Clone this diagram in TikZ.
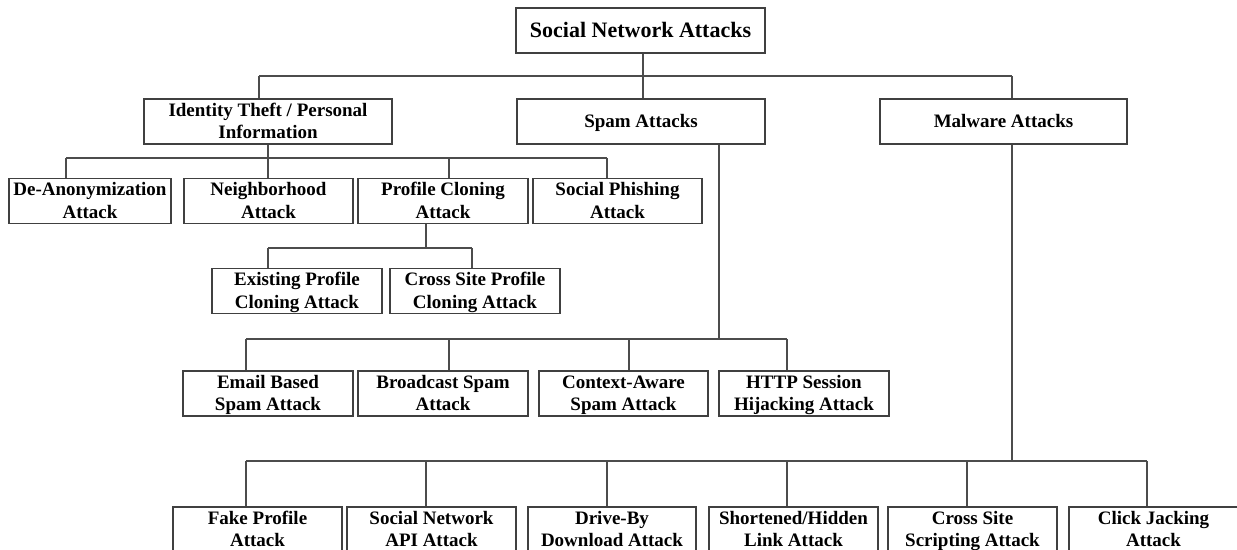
\documentclass[tikz,border=0pt]{standalone}
\usepackage{fontspec}
\setmainfont{Liberation Serif}

\tikzset{
  attack/.style={draw=black!75, line width=1.5pt, fill=white,
    minimum width=170pt, minimum height=45pt, inner sep=0pt,
    text height=38.5pt, text depth=4pt,
    align=center, font=\bfseries\fontsize{19}{22.5}\selectfont},
  oneline/.style={text height=16pt},
  link/.style={draw=black!70, line width=1.5pt}
}

\begin{document}
\begin{tikzpicture}[x=1pt,y=-1pt]

  % page frame (pixels of the original)
  \clip (0,0) rectangle (1237,549);
  \fill[white] (0,0) rectangle (1237,549);

  % Root
  \node[attack, oneline, minimum width=249pt, text height=17pt,
    font=\bfseries\fontsize{22}{26}\selectfont]
    (root) at (640.5,30.5) {Social Network Attacks};

  % First level
  \node[attack, minimum width=248pt] (identity) at (268,121.5) {Identity Theft / Personal\\Information};
  \node[attack, oneline, minimum width=248pt] (spam) at (641,121.5) {Spam Attacks};
  \node[attack, oneline, minimum width=247pt] (malware) at (1003.5,121.5) {Malware Attacks};

  % Identity theft children
  \node[attack, minimum width=162pt] (deanon) at (90,201) {De-Anonymization\\Attack};
  \node[attack, minimum width=169pt] (neighbor) at (268.5,201) {Neighborhood\\Attack};
  \node[attack] (pclone) at (443,201) {Profile Cloning\\Attack};
  \node[attack, minimum width=169pt] (phishing) at (617.5,201) {Social Phishing\\Attack};

  % Profile cloning children
  \node[attack] (existing) at (297,291) {Existing Profile\\Cloning Attack};
  \node[attack] (crosssite) at (475,291) {Cross Site Profile\\Cloning Attack};

  % Spam children
  \node[attack] (email) at (268,393.5) {Email Based\\Spam Attack};
  \node[attack] (broadcast) at (443,393.5) {Broadcast Spam\\Attack};
  \node[attack, minimum width=169pt] (context) at (623.5,393.5) {Context-Aware\\Spam Attack};
  \node[attack] (http) at (804,393.5) {HTTP Session\\Hijacking Attack};

  % Malware children
  \node[attack, minimum width=169pt] (fake) at (257.5,529.5) {Fake Profile\\Attack};
  \node[attack, minimum width=169pt] (api) at (431.5,529.5) {Social Network\\API Attack};
  \node[attack, minimum width=168pt] (drive) at (612,529.5) {Drive-By\\Download Attack};
  \node[attack, minimum width=169pt] (shortened) at (793.5,529.5) {Shortened/Hidden\\Link Attack};
  \node[attack, minimum width=169pt] (xss) at (972.5,529.5) {Cross Site\\Scripting Attack};
  \node[attack, minimum width=169pt] (click) at (1153.5,529.5) {Click Jacking\\Attack};

  % Root to first level
  \coordinate (t1) at (259,76);
  \coordinate (t2) at (643,76);
  \coordinate (t3) at (1012,76);
  \draw[link] (root.south -| t2) -- (spam.north -| t2);
  \draw[link] (t1) -- (t3);
  \draw[link] (identity.north -| t1) -- (t1);
  \draw[link] (malware.north -| t3) -- (t3);

  % Identity theft branch
  \coordinate (i1) at (66,158);
  \coordinate (i2) at (268,158);
  \coordinate (i3) at (449,158);
  \coordinate (i4) at (607,158);
  \draw[link] (identity.south -| i2) -- (neighbor.north -| i2);
  \draw[link] (i1) -- (i4);
  \draw[link] (deanon.north -| i1) -- (i1);
  \draw[link] (pclone.north -| i3) -- (i3);
  \draw[link] (phishing.north -| i4) -- (i4);

  % Profile cloning branch
  \coordinate (c0) at (426,248);
  \coordinate (c1) at (268,248);
  \coordinate (c2) at (472,248);
  \draw[link] (pclone.south -| c0) -- (c0);
  \draw[link] (c1) -- (c2);
  \draw[link] (existing.north -| c1) -- (c1);
  \draw[link] (crosssite.north -| c2) -- (c2);

  % Spam branch
  \coordinate (s0) at (719,339);
  \coordinate (s1) at (246,339);
  \coordinate (s2) at (449,339);
  \coordinate (s3) at (629,339);
  \coordinate (s4) at (787,339);
  \draw[link] (spam.south -| s0) -- (s0);
  \draw[link] (s1) -- (s4);
  \draw[link] (email.north -| s1) -- (s1);
  \draw[link] (broadcast.north -| s2) -- (s2);
  \draw[link] (context.north -| s3) -- (s3);
  \draw[link] (http.north -| s4) -- (s4);

  % Malware branch
  \coordinate (m0) at (1012,461);
  \coordinate (m1) at (246,461);
  \coordinate (m2) at (426,461);
  \coordinate (m3) at (607,461);
  \coordinate (m4) at (787,461);
  \coordinate (m5) at (967,461);
  \coordinate (m6) at (1147,461);
  \draw[link] (malware.south -| m0) -- (m0);
  \draw[link] (m1) -- (m6);
  \draw[link] (fake.north -| m1) -- (m1);
  \draw[link] (api.north -| m2) -- (m2);
  \draw[link] (drive.north -| m3) -- (m3);
  \draw[link] (shortened.north -| m4) -- (m4);
  \draw[link] (xss.north -| m5) -- (m5);
  \draw[link] (click.north -| m6) -- (m6);

\end{tikzpicture}
\end{document}
